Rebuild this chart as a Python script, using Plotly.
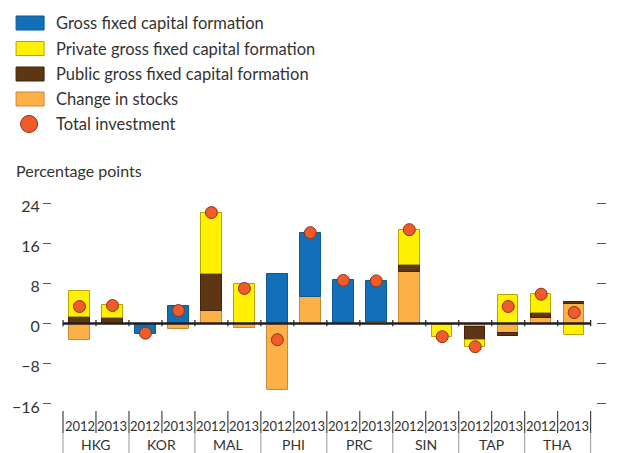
import plotly.graph_objects as go

# ---------------- data ----------------
countries = ["HKG", "KOR", "MAL", "PHI", "PRC", "SIN", "TAP", "THA"]
years = ["2012", "2013"]

gross_fcf = [0, 0, -2.0, 3.5, 0, 0, 9.8, 12.9, 8.6, 8.2, 0, 0, 0, 0, 0, 0]
private_fcf = [5.2, 2.55, 0, 0, 12.2, 7.8, 0, 0, 0, 0, 6.9, -2.4, -1.5, 5.6, 3.6, -2.3]
public_fcf = [1.3, 1.1, 0, 0, 7.3, 0, 0, 0, 0, 0, 1.4, -0.3, -2.6, -0.5, 1.1, 0.4]
change_stocks = [-3.3, 0, 0, -1.0, 2.5, -0.9, -13.2, 5.2, 0, 0.3, 10.3, 0, -0.6, -1.9, 1.1, 3.9]
total_investment = [3.4, 3.6, -1.9, 2.6, 22.1, 7.0, -3.2, 18.1, 8.6, 8.5, 18.7, -2.6, -4.6, 3.4, 5.85, 2.2]

y_ticks = [-16, -8, 0, 8, 16, 24]
y_tick_text = ["\u221216", "\u22128", "0", "8", "16", "24"]

series_names = ["Gross fixed capital formation", "Private gross fixed capital formation",
                "Public gross fixed capital formation", "Change in stocks"]
series_colors = ["#1170B8", "#FFF100", "#5E3613", "#FDB046"]
series_edges = ["#0B5A96", "#B5A600", "#3F230A", "#C8893A"]
dot_name = "Total investment"
dot_color = "#F15A2B"

FONT = "Lato, 'Open Sans', sans-serif"
TXT = "#333333"

# ---------------- figure ----------------
xs = list(range(len(countries) * len(years)))
series_vals = [gross_fcf, private_fcf, public_fcf, change_stocks]

fig = go.Figure()
# stacking order (bottom to top): stocks, gross, public, private
for idx in [3, 0, 2, 1]:
    vals = [v if v != 0 else None for v in series_vals[idx]]
    fig.add_trace(go.Bar(
        x=xs, y=vals, name=series_names[idx], width=0.62,
        marker=dict(color=series_colors[idx], line=dict(color=series_edges[idx], width=1)),
        showlegend=False,
    ))

fig.add_trace(go.Scatter(
    x=xs, y=total_investment, mode="markers", name=dot_name,
    marker=dict(size=12, color=dot_color, line=dict(color="#8A3418", width=1)),
    showlegend=False,
))
# invisible trace to activate right axis
fig.add_trace(go.Scatter(x=[xs[0]], y=[0], yaxis="y2", mode="markers",
                         marker=dict(opacity=0), showlegend=False, hoverinfo="skip"))

# plot-area pixel geometry
L, R, T, B = 51, 20, 198, 44
W, H = 617, 453
pw, ph = W - L - R, H - T - B
slot = 33.1
c0 = 78.6
x0 = (L - c0) / slot
x1 = x0 + pw / slot


def py(p):  # pixel y -> paper y
    return (H - B - p) / ph


def px(p):  # pixel x -> paper x
    return (p - L) / pw


shapes = []
annotations = []

n = len(xs)
# zero line
shapes.append(dict(type="line", xref="x", yref="y", x0=-0.5, x1=n - 0.5, y0=0, y1=0,
                   line=dict(color="#231F20", width=2.5), layer="above"))
for i in range(n + 1):
    shapes.append(dict(type="line", xref="x", yref="y", x0=i - 0.5, x1=i - 0.5, y0=-0.55, y1=0.7,
                       line=dict(color="#231F20", width=1.2), layer="above"))
    # year separators
    shapes.append(dict(type="line", xref="x", yref="paper", x0=i - 0.5, x1=i - 0.5,
                       y0=py(411), y1=py(433), line=dict(color="#231F20", width=1)))
for g in range(len(countries) + 1):
    xe = g * len(years) - 0.5
    shapes.append(dict(type="line", xref="x", yref="paper", x0=xe, x1=xe,
                       y0=py(433), y1=py(453), line=dict(color="#9A9A9A", width=1)))

# year labels & country labels
for g, c in enumerate(countries):
    for k, yr in enumerate(years):
        i = g * len(years) + k
        annotations.append(dict(x=i, y=py(426), xref="x", yref="paper", text=yr, showarrow=False,
                                font=dict(family=FONT, size=13, color=TXT), xanchor="center", yanchor="middle"))
    annotations.append(dict(x=g * len(years) + (len(years) - 1) / 2, y=py(444.5), xref="x", yref="paper",
                            text=c, showarrow=False, font=dict(family=FONT, size=14, color=TXT),
                            xanchor="center", yanchor="middle"))

# axis title
annotations.append(dict(x=px(13), y=py(170), xref="paper", yref="paper", text="Percentage points",
                        showarrow=False, font=dict(family=FONT, size=16, color=TXT),
                        xanchor="left", yanchor="middle"))

# manual legend
rows = [23, 48.5, 74, 99, 124]
for j, (nm, col, edge) in enumerate(zip(series_names, series_colors, series_edges)):
    yc = py(rows[j])
    shapes.append(dict(type="rect", xref="paper", yref="paper", xsizemode="pixel", ysizemode="pixel",
                       xanchor=px(29), yanchor=yc, x0=-14, x1=14, y0=-7, y1=7,
                       fillcolor=col, line=dict(color=edge, width=1)))
    annotations.append(dict(x=px(53), y=yc, xref="paper", yref="paper", text=nm, showarrow=False,
                            font=dict(family=FONT, size=16.5, color=TXT), xanchor="left", yanchor="middle"))
yc = py(rows[4])
shapes.append(dict(type="circle", xref="paper", yref="paper", xsizemode="pixel", ysizemode="pixel",
                   xanchor=px(28), yanchor=yc, x0=-8.5, x1=8.5, y0=-8.5, y1=8.5,
                   fillcolor=dot_color, line=dict(color="#8A3418", width=1)))
annotations.append(dict(x=px(53), y=yc, xref="paper", yref="paper", text=dot_name, showarrow=False,
                        font=dict(family=FONT, size=16.5, color=TXT), xanchor="left", yanchor="middle"))

yrange = [-17, 25]
fig.update_layout(
    width=W, height=H,
    margin=dict(l=L, r=R, t=T, b=B),
    paper_bgcolor="white", plot_bgcolor="white",
    barmode="relative", bargap=0,
    font=dict(family=FONT, color=TXT),
    xaxis=dict(range=[x0, x1], showticklabels=False, showgrid=False, zeroline=False,
               showline=False, ticks=""),
    yaxis=dict(range=yrange, tickvals=y_ticks, ticktext=y_tick_text, showgrid=False, zeroline=False,
               showline=False, ticks="outside", ticklen=8, tickwidth=1.3, tickcolor="#555555",
               ticklabelshift=3, tickfont=dict(family=FONT, size=16, color=TXT)),
    yaxis2=dict(range=yrange, overlaying="y", side="right", tickvals=y_ticks, showticklabels=False,
                showgrid=False, zeroline=False, showline=False, ticks="outside", ticklen=9,
                tickwidth=1.3, tickcolor="#555555"),
    shapes=shapes, annotations=annotations,
)

fig.write_html("out.html", config={"displayModeBar": False},
               post_script="document.body.style.margin='0';document.body.style.padding='0';")
